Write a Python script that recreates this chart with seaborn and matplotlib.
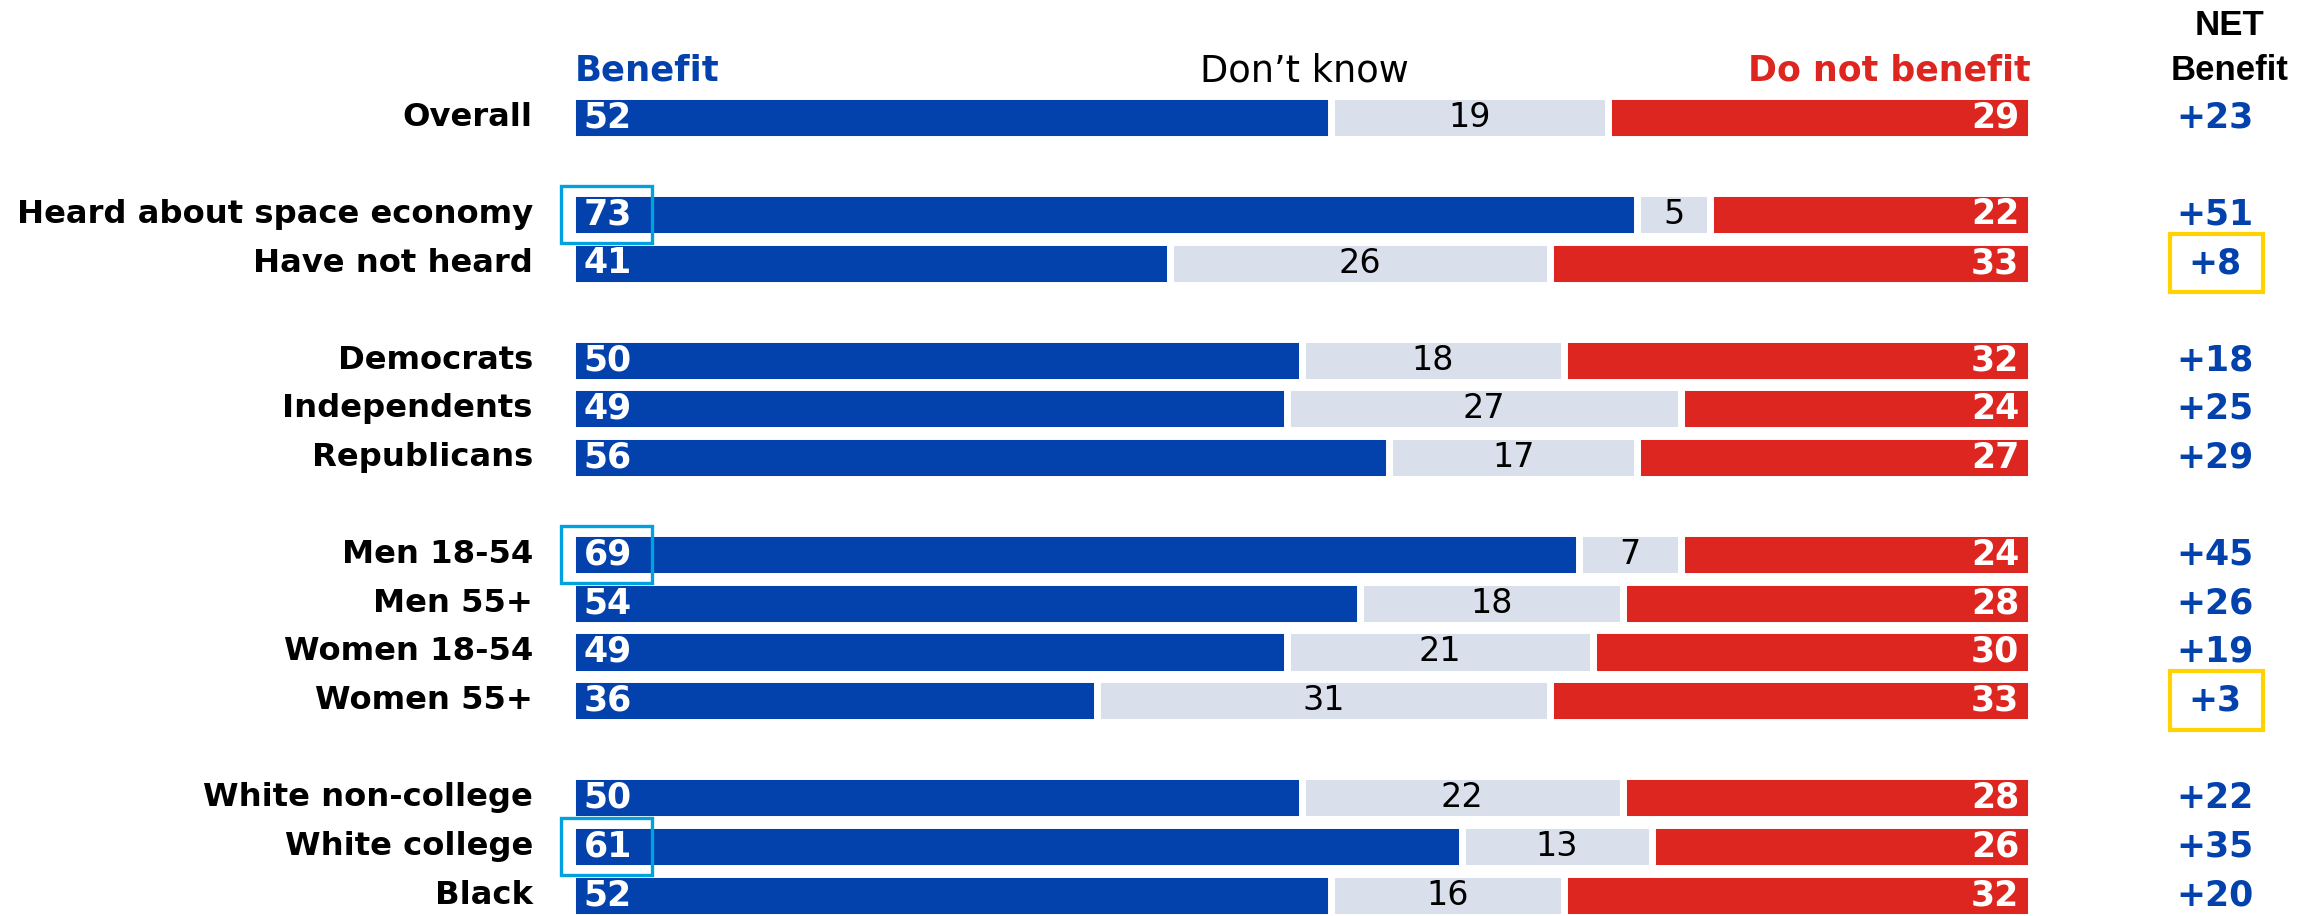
import numpy as np
import pandas as pd
import matplotlib.pyplot as plt
import seaborn as sns
from matplotlib.patches import Rectangle

labels = ["Overall", "Heard about space economy", "Have not heard", "Democrats",
          "Independents", "Republicans", "Men 18-54", "Men 55+", "Women 18-54",
          "Women 55+", "White non-college", "White college", "Black"]
groups = [0, 1, 1, 2, 2, 2, 3, 3, 3, 3, 4, 4, 4]
benefit = [52, 73, 41, 50, 49, 56, 69, 54, 49, 36, 50, 61, 52]
dont_know = [19, 5, 26, 18, 27, 17, 7, 18, 21, 31, 22, 13, 16]
not_benefit = [29, 22, 33, 32, 24, 27, 24, 28, 30, 33, 28, 26, 32]
net = ["+23", "+51", "+8", "+18", "+25", "+29", "+45", "+26", "+19", "+3", "+22", "+35", "+20"]
cyan_rows = ["Heard about space economy", "Men 18-54", "White college"]
yellow_rows = ["Have not heard", "Women 55+"]

BLUE = "#0342ad"
GREY = "#d9dfeb"
RED = "#dc261f"

df = pd.DataFrame({"label": labels, "benefit": benefit, "dk": dont_know, "nb": not_benefit, "net": net})
df["pos"] = np.arange(len(df)) + np.array(groups)
df["cum_dk"] = df["benefit"] + df["dk"]
df["total"] = df["cum_dk"] + df["nb"]

sns.set_style("white")
plt.rcParams["font.family"] = ["DejaVu Sans"]

fig = plt.figure(figsize=(22.97, 9.16), dpi=100)
ax = fig.add_axes([572.2 / 2297, 0, (2031 - 572.2) / 2297, 1])

bar_kw = dict(orient="h", native_scale=True, width=0.885, saturation=1,
              edgecolor="white", linewidth=5, ax=ax)
sns.barplot(data=df, x="total", y="pos", color=RED, **bar_kw)
sns.barplot(data=df, x="cum_dk", y="pos", color=GREY, **bar_kw)
sns.barplot(data=df, x="benefit", y="pos", color=BLUE, **bar_kw)

ax.set_xlim(0, 100)
ax.set_ylim(16.43, -2.41)
ax.axis("off")

for _, r in df.iterrows():
    y = r["pos"]
    ax.text(-2.7, y, r["label"], ha="right", va="center", fontsize=23.2, fontweight="bold", color="black")
    ax.text(0.8, y, str(r["benefit"]), ha="left", va="center", fontsize=25, fontweight="bold", color="white")
    ax.text(r["benefit"] + r["dk"] / 2, y, str(r["dk"]), ha="center", va="center", fontsize=24, color="black")
    ax.text(99.2, y, str(r["nb"]), ha="right", va="center", fontsize=25, fontweight="bold", color="white")
    ax.text(112.6, y, r["net"], ha="center", va="center", fontsize=25, fontweight="bold", color=BLUE, clip_on=False)
    if r["label"] in cyan_rows:
        ax.add_patch(Rectangle((-0.8, y - 0.59), 6.3, 1.18, fill=False, edgecolor="#00a1df", lw=2.4, clip_on=False))
    if r["label"] in yellow_rows:
        ax.add_patch(Rectangle((109.5, y - 0.6), 6.4, 1.2, fill=False, edgecolor="#ffd200", lw=3, clip_on=False))

# column headers
narrow = ["Liberation Sans", "DejaVu Sans"]
ax.text(0.2, -0.95, "Benefit", ha="left", va="center", fontsize=25.5, fontweight="bold", color=BLUE)
ax.text(50.2, -0.95, "Don\u2019t know", ha="center", va="center", fontsize=26.5, color="black")
ax.text(100, -0.95, "Do not benefit", ha="right", va="center", fontsize=25, fontweight="bold", color=RED)
ax.text(113.6, -1.88, "NET", ha="center", va="center", fontsize=25, fontweight="bold", family=narrow,
        color="black", clip_on=False)
ax.text(113.6, -0.97, "Benefit", ha="center", va="center", fontsize=25, fontweight="bold", family=narrow,
        color="black", clip_on=False)

fig.savefig("out.png", dpi=100)
